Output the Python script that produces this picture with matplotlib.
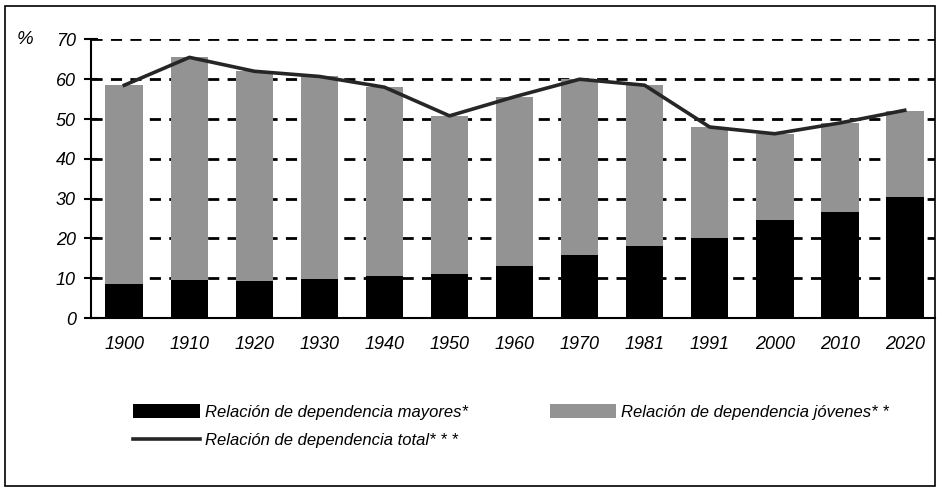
import matplotlib.pyplot as plt
from matplotlib.patches import Rectangle
from matplotlib.lines import Line2D
import numpy as np

years = ["1900", "1910", "1920", "1930", "1940", "1950", "1960",
         "1970", "1981", "1991", "2000", "2010", "2020"]
mayores = [8.5, 9.5, 9.4, 9.9, 10.6, 11.1, 13.1, 15.8, 18.1, 20.2, 24.6, 26.6, 30.3]
jovenes = [50.0, 56.0, 52.6, 50.8, 47.4, 39.7, 42.5, 44.2, 40.4, 27.8, 21.7, 22.4, 21.7]
total = [58.5, 65.5, 62.0, 60.7, 58.0, 50.8, 55.6, 60.0, 58.5, 48.0, 46.3, 49.0, 52.2]
y_ticks = [0, 10, 20, 30, 40, 50, 60, 70]

label_mayores = "Relación de dependencia mayores*"
label_jovenes = "Relación de dependencia jóvenes* *"
label_total = "Relación de dependencia total* * *"

plt.rcParams['font.family'] = ['Liberation Sans', 'DejaVu Sans']

fig = plt.figure(figsize=(9.4, 4.87), dpi=100)
ax = fig.add_axes([0.097, 0.347, 0.898, 0.572])

x = np.arange(len(years))
ax.bar(x, mayores, width=0.58, color='black', zorder=3)
ax.bar(x, jovenes, width=0.58, bottom=mayores, color='#939393', zorder=3)
ax.plot(x, total, color='#262626', linewidth=2.6, zorder=4)

ax.set_xlim(-0.51, 12.47)
ax.set_ylim(0, 70)
ax.set_yticks(y_ticks)
ax.set_yticklabels([str(v) for v in y_ticks], fontstyle='italic', fontsize=13)
ax.set_xticks(x)
ax.set_xticklabels(years, fontstyle='italic', fontsize=13)
ax.tick_params(axis='x', length=0, pad=13)
ax.tick_params(axis='y', direction='inout', length=10, width=1.5, pad=6)

# dashed horizontal grid
for v in y_ticks[1:]:
    ax.axhline(v, color='black', linewidth=2, linestyle=(0, (4, 3)), zorder=1)

for side in ['top', 'right']:
    ax.spines[side].set_visible(False)
ax.spines['left'].set_linewidth(1.5)
ax.spines['bottom'].set_linewidth(1.5)

fig.text(17 / 940, 1 - 40 / 487, "%", fontsize=13.5, fontstyle='italic',
         ha='left', va='center')

handles = [
    Rectangle((0, 0), 1, 1, facecolor='black'),
    Line2D([0], [0], color='#262626', linewidth=2.6),
    Rectangle((0, 0), 1, 1, facecolor='#939393'),
]
labels = [label_mayores, label_total, label_jovenes]
fig.legend(handles, labels, loc='upper left',
           bbox_to_anchor=(125 / 940, 1 - 396 / 487), ncol=2,
           frameon=False, handlelength=4.0, handleheight=0.9,
           handletextpad=0.3, columnspacing=4.9, labelspacing=0.75,
           borderpad=0, prop={'style': 'italic', 'size': 12})

# frame around the whole chart
fig.patches.append(Rectangle((5 / 940, 0.002), 930 / 940, 1 - 7 / 487,
                             transform=fig.transFigure, fill=False,
                             edgecolor='black', linewidth=1.2))

fig.savefig("out.png", dpi=100)
